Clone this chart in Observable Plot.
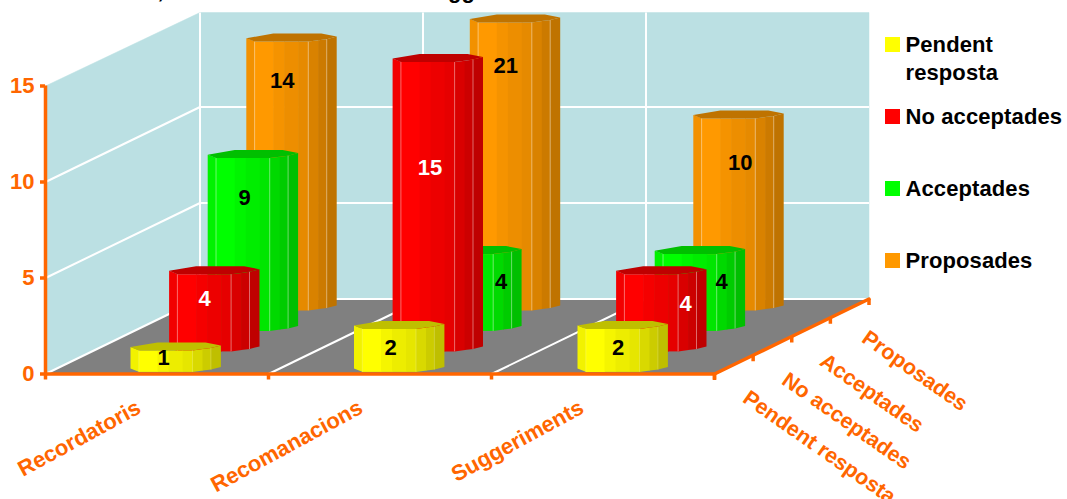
<!DOCTYPE html>
<html>
<head>
<meta charset="utf-8">
<script src="https://cdn.jsdelivr.net/npm/d3@7"></script>
<script src="https://cdn.jsdelivr.net/npm/@observablehq/plot@0.6"></script>
<style>
  html, body { margin: 0; padding: 0; background: #fff; overflow: hidden; }
  .spaced text { letter-spacing: 0.1px; }
</style>
</head>
<body>
<div id="chart"></div>
<script>
// Values per recommendation type, one list per series.
const categories = ["Recordatoris", "Recomanacions", "Suggeriments"];
const seriesNames = ["Pendent resposta", "No acceptades", "Acceptades", "Proposades"];
const pendentResposta = [1, 2, 2];
const noAcceptades = [4, 15, 4];
const acceptades = [9, 4, 4];
const proposades = [14, 21, 10];
const valueTicks = [0, 5, 10, 15];
const titleFragments = [",", "gg"];
const legendLines = [["Pendent", "resposta"], ["No acceptades"], ["Acceptades"], ["Proposades"]];

const seriesValues = [pendentResposta, noAcceptades, acceptades, proposades];
const seriesColors = [[255, 255, 0], [255, 0, 0], [0, 255, 0], [255, 153, 0]];
const labelColors = ["#000", "#fff", "#000", "#000"];

// Frame of the front plane, in pixels. The scales map categories and values onto it.
const W = 1067, H = 499;
const frontLeft = 45, frontRight = 714, frontBase = 373.5, frontTop = 85.5;
const axisMax = 15;
const pxPerCategory = (frontRight - frontLeft) / (categories.length);
const pxPerValue = (frontBase - frontTop) / axisMax;
const ux = (px) => px / pxPerCategory;
const uy = (px) => px / pxPerValue;
const atX = (px) => ux(px - frontLeft);
const atY = (py) => uy(frontBase - py);

// Oblique depth: the four rows of bars recede up and to the right.
const depthX = ux(154.5 / 4), depthY = uy(75 / 4), rows = 4;
const wallTop = 14.92;
const orange = "#FF6600", wall = "#BBE0E3", floor = "#808080";
const axisWeight = 3.5, fontPx = 22;

// Shape of an octagonal column seen from the front, in pixels from its left corner.
const stripEdges = [
  [0, 0], [8.3, 3.4], [27, 3.4], [38, 3.4], [52, 3.4], [62, 3.4], [72, 2.1], [80.4, 1], [90.4, -1.6]
];
const stripShades = [0.95, 1, 0.96, 0.93, 0.9, 0.85, 0.8, 0.75];
const capBack = [[75, -4.6], [27, -4.6]];
const capShade = 0.75;
const seamOffsets = [8.3, 62, 80.4];
const stripOverlap = 0.6;

// Placement of the columns.
const rowStepX = 38.6, rowStepY = 20.5, firstBarX = 85, firstBarY = 5.5, categoryDrift = 0.5;
const rowStretch = [1.12, 1.005, 1, 1];

// Where each value label sits, measured from the column's top left corner.
const labelNudgeX = [[33, 36.5, 40.5], [35.4, 37.4, 69.4], [37, 70, 67], [36, 36, 47]];
const labelNudgeY = [[10.5, 22, 22], [28, 109, 33], [43, 31, 31], [42.5, 46.5, 48]];

const shade = (rgb, k) => `rgb(${rgb.map((c) => Math.round(c * k)).join(",")})`;

function bar(c, s) {
  const value = seriesValues[s][c];
  const left = c + ux(firstBarX + categoryDrift * c + rowStepX * s);
  const base = uy(firstBarY + rowStepY * s);
  const top = base + Math.min(value, axisMax) * rowStretch[s];
  return { c, s, value, left, base, top };
}

function barMarks(b) {
  const rgb = seriesColors[b.s];
  const polys = [];
  stripShades.forEach((k, i) => {
    const [x0, d0] = stripEdges[i], [x1, d1] = stripEdges[i + 1];
    const color = shade(rgb, k), id = `s${i}`;
    const xEnd = x1 + (i < stripShades.length - 1 ? stripOverlap : 0);
    polys.push(
      { id, color, x: b.left + ux(x0), y: b.top - uy(d0) },
      { id, color, x: b.left + ux(xEnd), y: b.top - uy(d1) },
      { id, color, x: b.left + ux(xEnd), y: b.base - uy(d1) },
      { id, color, x: b.left + ux(x0), y: b.base - uy(d0) }
    );
  });
  const capColor = shade(rgb, capShade);
  for (const [x, d] of [...stripEdges, ...capBack]) {
    polys.push({ id: "cap", color: capColor, x: b.left + ux(x), y: b.top - uy(d) });
  }
  const seams = seamOffsets.map((x) => {
    const edge = stripEdges.find((e) => e[0] === x);
    return { x: b.left + ux(x), y1: b.base - uy(edge[1]), y2: b.top - uy(edge[1]) };
  });
  return [
    Plot.line(polys, { x: "x", y: "y", z: "id", fill: "color", stroke: "none" }),
    Plot.link(seams, {
      x1: "x", x2: "x", y1: "y1", y2: "y2",
      stroke: "#fff", strokeOpacity: b.s === 0 ? 0.2 : 0.42, strokeWidth: 1
    })
  ];
}

// Columns are painted from the back row to the front.
const bars = [];
for (let s = rows - 1; s >= 0; --s) for (let c = 0; c < categories.length; ++c) bars.push(bar(c, s));

const valueLabels = bars.map((b) => ({
  text: String(b.value),
  color: labelColors[b.s],
  x: b.left + ux(labelNudgeX[b.s][b.c]),
  y: b.top - uy(labelNudgeY[b.s][b.c])
}));

// Walls and floor of the box.
const boxX = (c, d) => c + d * depthX;
const boxY = (v, d) => v + d * depthY;
const nCat = categories.length;
const box = [
  ...[[0, 0, 0], [0, 4, 0], [0, 4, wallTop], [0, 0, axisMax]].map(([c, d, v]) => ({ id: "side", color: wall, x: boxX(c, d), y: boxY(v, d) })),
  ...[[0, 4, 0], [1, 4, 0], [1, 4, wallTop], [0, 4, wallTop]].map(([c, d, v]) => ({ id: "back", color: wall, x: boxX(c * nCat, d), y: boxY(v, d) })),
  ...[[0, 0], [1, 0], [1, 4], [0, 4]].map(([c, d]) => ({ id: "floor", color: floor, x: boxX(c * nCat, d), y: boxY(0, d) }))
];

const inner = valueTicks.filter((v) => v > 0 && v < axisMax);
const gridLinks = [
  ...inner.map((v) => ({ x1: boxX(0, 0), y1: boxY(v, 0), x2: boxX(0, 4), y2: boxY(v, 4) })),
  ...[0, ...inner].map((v) => ({ x1: boxX(0, 4), y1: boxY(v, 4), x2: boxX(nCat, 4), y2: boxY(v, 4) })),
  ...d3.range(nCat).map((c) => ({ x1: boxX(c, 4), y1: boxY(0, 4), x2: boxX(c, 4), y2: boxY(wallTop, 4) })),
  ...d3.range(nCat).map((c) => ({ x1: boxX(c, 0), y1: boxY(0, 0), x2: boxX(c, 4), y2: boxY(0, 4) }))
];

// Depth axis along the right edge of the floor.
const depthSteps = d3.range(rows + 1);
const depthAxis = depthSteps.map((d) => ({ x: boxX(nCat, d), y: boxY(0, d) }));
const depthTicks = depthSteps.map((d) => ({ x: boxX(nCat, d), y1: boxY(0, d), y2: boxY(0, d) - uy(6) }));

// Legend rows down the right side.
const legendTops = [37, 109, 181, 253];
const legendSwatches = seriesNames.map((name, i) => ({
  color: shade(seriesColors[i], 1),
  x1: atX(885), x2: atX(900), y1: atY(legendTops[i]), y2: atY(legendTops[i] + 15)
}));
const legendTexts = legendLines.flatMap((lines, i) =>
  lines.map((text, j) => ({ text, x: atX(905), y: atY(legendTops[i] + 7.5 + j * 28) }))
);

// Slanted axis names.
const categoryNudge = [-18, -19, -21];
const categoryLabels = categories.map((text, i) => ({
  text, x: i + 0.5 + ux(categoryNudge[i]), y: -uy(32)
}));
const rowAnchorsX = [745, 784, 822, 864];
const rowAnchorsY = [395, 377, 358, 335];
const rowLabels = seriesNames.map((text, i) => ({ text, x: atX(rowAnchorsX[i]), y: atY(rowAnchorsY[i]) }));

// Descenders of the heading, which runs off the top edge.
const titleX = [160, 461];
const titleRows = titleFragments.map((text, i) => ({ text, x: atX(titleX[i]), y: atY(-3) }));

const chart = Plot.plot({
  width: W,
  height: H,
  marginLeft: frontLeft,
  marginRight: W - frontRight,
  marginTop: frontTop,
  marginBottom: H - frontBase,
  style: { background: "#fff", fontFamily: "'Liberation Sans', Arial, sans-serif", overflow: "hidden" },
  x: { domain: [0, nCat], axis: null },
  y: { domain: [0, axisMax], axis: null },
  color: { type: "identity" },
  marks: [
    Plot.line(box, { x: "x", y: "y", z: "id", fill: "color", stroke: "color", strokeWidth: 0.5 }),
    Plot.link(gridLinks, { x1: "x1", y1: "y1", x2: "x2", y2: "y2", stroke: "#fff", strokeWidth: 2 }),
    ...bars.flatMap(barMarks),
    Plot.ruleX([0], { y1: 0, y2: axisMax, stroke: orange, strokeWidth: axisWeight }),
    Plot.ruleY([0], { x1: 0, x2: nCat, stroke: orange, strokeWidth: axisWeight }),
    Plot.axisY({
      anchor: "left", ticks: valueTicks, tickSize: 5, tickPadding: 6, strokeWidth: axisWeight, label: null,
      color: orange, fontSize: fontPx, fontWeight: "bold"
    }),
    Plot.axisX({
      anchor: "bottom", ticks: d3.range(nCat + 1), tickSize: 6, strokeWidth: axisWeight, label: null,
      tickFormat: () => "", color: orange
    }),
    Plot.line(depthAxis, { x: "x", y: "y", stroke: orange, strokeWidth: axisWeight }),
    Plot.link(depthTicks, { x1: "x", x2: "x", y1: "y1", y2: "y2", stroke: orange, strokeWidth: axisWeight }),
    Plot.text(valueLabels, {
      x: "x", y: "y", text: "text", fill: "color", fontSize: fontPx, fontWeight: "bold"
    }),
    Plot.rect(legendSwatches, { x1: "x1", x2: "x2", y1: "y1", y2: "y2", fill: "color" }),
    Plot.text(legendTexts, {
      x: "x", y: "y", text: "text", textAnchor: "start", fill: "#000", fontSize: fontPx, fontWeight: "bold",
      className: "spaced"
    }),
    Plot.text(categoryLabels, {
      x: "x", y: "y", text: "text", textAnchor: "end", rotate: -28.5, fill: orange, fontSize: fontPx, fontWeight: "bold"
    }),
    Plot.text(rowLabels, {
      x: "x", y: "y", text: "text", textAnchor: "start", rotate: 35, fill: orange, fontSize: 21.5, fontWeight: "bold"
    }),
    Plot.text(titleRows, {
      x: "x", y: "y", text: "text", fill: "#000", fontSize: fontPx, fontWeight: "bold", lineAnchor: "bottom"
    })
  ]
});
document.getElementById("chart").append(chart);
</script>
</body>
</html>
